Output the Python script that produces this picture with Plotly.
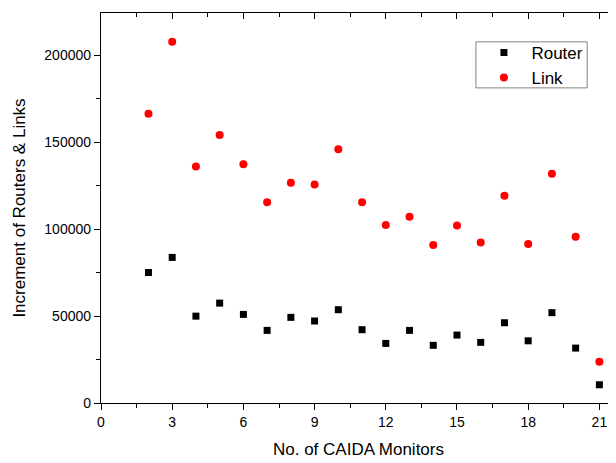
import plotly.graph_objects as go

monitors = list(range(2, 22))
router = [75100, 83800, 50000, 57500, 51000, 41800, 49300, 47200, 53700, 42200,
          34300, 41800, 33200, 39100, 34900, 46200, 35800, 52000, 31600, 10500]
link = [166500, 207900, 136100, 154200, 137500, 115600, 126800, 125800, 146100, 115600,
        102400, 107200, 90900, 102200, 92400, 119300, 91500, 131900, 95700, 23800]

x_ticks = [0, 3, 6, 9, 12, 15, 18, 21]
y_ticks = [0, 50000, 100000, 150000, 200000]

FONT = "Liberation Sans, Arial, sans-serif"
XR = [0, 21.7]
YR = [0, 224500]

fig = go.Figure()
fig.add_trace(go.Scatter(x=monitors, y=router, mode="markers", name="Router",
                         marker=dict(symbol="square", size=7, color="black")))
fig.add_trace(go.Scatter(x=monitors, y=link, mode="markers", name="Link",
                         marker=dict(symbol="circle", size=8, color="#ff0000")))
# empty trace to bind the mirrored top/right axes
fig.add_trace(go.Scatter(x=[], y=[], xaxis="x2", yaxis="y2", showlegend=False,
                         hoverinfo="skip"))

common = dict(showline=True, linecolor="black", linewidth=1.3, showgrid=False,
              zeroline=False, tickcolor="black", tickwidth=1.3, automargin=False)

fig.update_layout(
    width=608, height=455,
    margin=dict(l=93, r=0, t=5, b=60, autoexpand=False),
    paper_bgcolor="white", plot_bgcolor="white",
    font=dict(family=FONT, color="black"),
    xaxis=dict(range=XR, tickvals=x_ticks, ticks="outside", ticklen=6,
               tickfont=dict(size=14),
               minor=dict(ticks="outside", ticklen=4, dtick=1.5, tick0=0,
                          tickcolor="black", tickwidth=1.3),
               title=dict(text="No. of CAIDA Monitors", font=dict(size=17), standoff=14),
               **common),
    yaxis=dict(range=YR, tickvals=y_ticks, ticks="outside", ticklen=6,
               tickfont=dict(size=14), tickformat="d",
               minor=dict(ticks="outside", ticklen=4, dtick=25000, tick0=0,
                          tickcolor="black", tickwidth=1.3),
               title=dict(text="Increment of Routers &amp; Links", font=dict(size=17), standoff=14),
               **common),
    xaxis2=dict(range=XR, overlaying="x", side="top", tickvals=x_ticks,
                ticks="inside", ticklen=6, showticklabels=False,
                minor=dict(ticks="inside", ticklen=4, dtick=1.5, tick0=0,
                           tickcolor="black", tickwidth=1.3),
                **common),
    yaxis2=dict(range=YR, overlaying="y", side="right", tickvals=y_ticks,
                ticks="inside", ticklen=6, showticklabels=False,
                minor=dict(ticks="inside", ticklen=4, dtick=25000, tick0=0,
                           tickcolor="black", tickwidth=1.3),
                **common),
    legend=dict(x=0.729, y=0.944, xanchor="left", yanchor="top",
                borderwidth=0, bgcolor="rgba(0,0,0,0)",
                font=dict(size=17), itemwidth=45, tracegroupgap=0),
    shapes=[dict(type="rect", xref="paper", yref="paper",
                 x0=0.728, x1=0.944, y0=0.808, y1=0.926,
                 line=dict(color="#808080", width=1), fillcolor="rgba(0,0,0,0)",
                 layer="below")],
    showlegend=True,
)

fig.write_html("out.html")
